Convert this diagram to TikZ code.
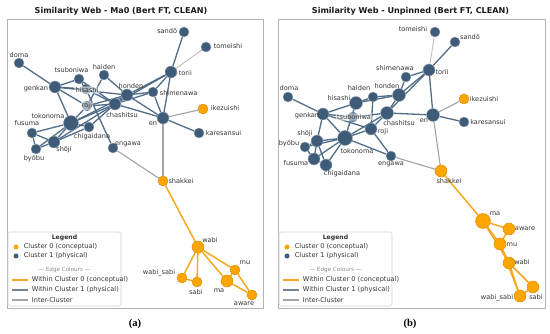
\documentclass[tikz,border=0pt]{standalone}
\usepackage{fontspec}
\setmainfont{DejaVu Sans}
\newfontfamily\capfont{Liberation Serif}
\usetikzlibrary{backgrounds}
\definecolor{bluen}{HTML}{3E5B78}
\definecolor{bluee}{HTML}{4A6683}
\definecolor{orn}{HTML}{FFA500}
\definecolor{ore}{HTML}{F7A81E}
\definecolor{grayl}{HTML}{A5A5A5}
\definecolor{txt}{HTML}{333333}
\newcommand\mylegend[1]{%
\begin{scope}[shift={(#1,0)}]
\draw[draw=black!18,fill=white,line width=0.3pt,rounded corners=1pt] (8,232) rectangle (121,306);
\node[lbl,font=\fontsize{3.5}{4}\selectfont\bfseries] (lg#1) at (64.5,238) {Legend};
\node[circle,fill=orn,inner sep=0pt,minimum size=0.1cm] (lgo#1) at (16,247) {};
\node[lbl,anchor=west,font=\fontsize{3.75}{4}\selectfont] (lgot#1) at (23,247) {Cluster 0 (conceptual)};
\node[circle,fill=bluen,inner sep=0pt,minimum size=0.1cm] (lgb#1) at (16,256) {};
\node[lbl,anchor=west,font=\fontsize{3.75}{4}\selectfont] (lgbt#1) at (23,256) {Cluster 1 (physical)};
\node[lbl,text=black!45,font=\fontsize{3.2}{4}\selectfont] (lge#1) at (64.5,270) {--- Edge Colours ---};
\coordinate (lla#1) at (12,280); \coordinate (llb#1) at (28,280);
\draw[draw=ore,line width=0.8pt] (lla#1) -- (llb#1);
\node[lbl,anchor=west,font=\fontsize{3.75}{4}\selectfont] (lgl0#1) at (31,280) {Within Cluster 0 (conceptual)};
\coordinate (lma#1) at (12,290); \coordinate (lmb#1) at (28,290);
\draw[draw=bluee!80!white,line width=0.8pt] (lma#1) -- (lmb#1);
\node[lbl,anchor=west,font=\fontsize{3.75}{4}\selectfont] (lgl1#1) at (31,290) {Within Cluster 1 (physical)};
\coordinate (lna#1) at (12,300); \coordinate (lnb#1) at (28,300);
\draw[draw=grayl,line width=0.6pt] (lna#1) -- (lnb#1);
\node[lbl,anchor=west,font=\fontsize{3.75}{4}\selectfont] (lgl2#1) at (31,300) {Inter-Cluster};
\end{scope}}
\begin{document}
\begin{tikzpicture}[x=0.02cm,y=-0.02cm,
 bn/.style={circle,fill=bluen,draw=bluen!55!white,line width=0.25pt,inner sep=0pt},
 on/.style={circle,fill=orn,draw=orn!85!black,line width=0.25pt,inner sep=0pt},
 ns/.style={minimum size=0.2cm}, nm/.style={minimum size=0.24cm},
 nb/.style={minimum size=0.26cm}, nl/.style={minimum size=0.3cm},
 lbl/.style={font=\fontsize{3.75}{4}\selectfont,text=txt,inner sep=0.3pt},
 boxlbl/.style={lbl,fill=white,fill opacity=0.55,text opacity=1,rounded corners=0.5pt,inner sep=0.6pt},
 e1/.style={draw=bluee,line width=0.75pt,opacity=0.95},
 e0/.style={draw=ore,line width=0.85pt},
 ex/.style={draw=grayl,line width=0.65pt},
 el/.style={draw=black!25,line width=0.5pt},
 frame/.style={draw=black!30,line width=0.5pt},
 ttl/.style={font=\fontsize{4.6}{5}\selectfont\bfseries,text=black!90,inner sep=0pt},
 captxt/.style={font=\fontsize{6}{7}\selectfont\capfont\bfseries,inner sep=0pt}]
\useasboundingbox (0,0) rectangle (550,334);
% titles, frames, captions
\node[ttl] (ta) at (121,11) {Similarity Web - Ma0 (Bert FT, CLEAN)};
\node[ttl] (tb) at (410.5,11) {Similarity Web - Unpinned (Bert FT, CLEAN)};
\draw[frame] (7,19) rectangle (263,308);
\draw[frame] (278,19) rectangle (545,308);
\node[captxt] (capa) at (135,324) {(a)};
\node[captxt] (capb) at (410,324) {(b)};
% ---------- panel a nodes ----------
\node[bn,ns] (asando) at (184,32) {};
\node[bn,ns] (atomeishi) at (206,47) {};
\node[bn,ns] (adoma) at (19,63) {};
\node[bn,nm] (atorii) at (171,72) {};
\node[bn,ns] (ahaiden) at (104,75) {};
\node[bn,ns] (atsuboniwa) at (79,79) {};
\node[bn,nm] (agenkan) at (55,87) {};
\node[bn,ns] (ahisashi) at (86,89) {};
\node[bn,nm] (ahonden) at (127,95) {};
\node[bn,ns] (ashimenawa) at (153,92) {};
\node[on,ns] (aikezuishi) at (203,109) {};
\node[bn,ns] (aroji) at (87,106) {};
\node[bn,nm] (achashitsu) at (115,104) {};
\node[bn,nm] (aen) at (163,118) {};
\node[bn,nl] (atokonoma) at (71,123) {};
\node[bn,ns] (akaresansui) at (199,133) {};
\node[bn,ns] (afusuma) at (32,133) {};
\node[bn,ns] (achigaidana) at (89,127) {};
\node[bn,nm] (ashoji) at (54,142) {};
\node[bn,ns] (aengawa) at (113,148) {};
\node[bn,ns] (abyobu) at (36,149) {};
\node[on,ns] (ashakkei) at (163,181) {};
\node[on,nm] (awabi) at (198,247) {};
\node[on,ns] (amu) at (235,270) {};
\node[on,ns] (awabisabi) at (182,278) {};
\node[on,ns] (asabi) at (197,282) {};
\node[on,nm] (ama) at (227,281) {};
\node[on,ns] (aaware) at (252,295) {};
% ---------- panel b nodes ----------
\node[bn,ns] (btomeishi) at (435,32) {};
\node[bn,ns] (bsando) at (455,42) {};
\node[bn,ns] (bshimenawa) at (406,77) {};
\node[bn,nm] (btorii) at (429,70) {};
\node[bn,ns] (bdoma) at (288,97) {};
\node[bn,ns] (bhaiden) at (373,97) {};
\node[bn,nb] (bhonden) at (399,95) {};
\node[on,ns] (bikezuishi) at (464,99) {};
\node[bn,nb] (bhisashi) at (356,103) {};
\node[bn,nm] (bgenkan) at (323,114) {};
\node[bn,ns] (btsuboniwa) at (353,117) {};
\node[bn,nb] (bchashitsu) at (387,113) {};
\node[bn,nb] (ben) at (433,115) {};
\node[bn,ns] (bkaresansui) at (464,122) {};
\node[bn,nm] (broji) at (371,129) {};
\node[bn,nm] (bshoji) at (317,141) {};
\node[bn,nl] (btokonoma) at (345,138) {};
\node[bn,ns] (bbyobu) at (305,147) {};
\node[bn,nm] (bfusuma) at (314,159) {};
\node[bn,ns] (bengawa) at (391,156) {};
\node[bn,nm] (bchigaidana) at (326,165) {};
\node[on,nm] (bshakkei) at (441,171) {};
\node[on,nl] (bma) at (483,221) {};
\node[on,nm] (baware) at (509,229) {};
\node[on,nm] (bmu) at (500,244) {};
\node[on,nm] (bwabi) at (509,263) {};
\node[on,nm] (bsabi) at (533,287) {};
\node[on,nm] (bwabisabi) at (520,296) {};
% ---------- edges ----------
\begin{pgfonlayer}{background}
\foreach \u/\v in {doma/genkan,sando/torii,torii/honden,torii/chashitsu,torii/shimenawa,torii/en,
 shimenawa/honden,shimenawa/en,shimenawa/chashitsu,honden/en,chashitsu/en,en/karesansui,
 haiden/honden,haiden/roji,genkan/tsuboniwa,genkan/hisashi,genkan/honden,genkan/tokonoma,genkan/roji,
 tsuboniwa/hisashi,tsuboniwa/chashitsu,hisashi/engawa,hisashi/chashitsu,roji/chashitsu,roji/tokonoma,
 roji/honden,tokonoma/chashitsu,tokonoma/honden,tokonoma/chigaidana,tokonoma/fusuma,tokonoma/shoji,
 tokonoma/byobu,chigaidana/chashitsu,chigaidana/shoji,fusuma/byobu,fusuma/shoji,byobu/shoji,
 honden/chashitsu,shoji/chashitsu}
 \draw[e1] (a\u) -- (a\v);
\draw[el] (atomeishi) -- (atorii);
\foreach \u/\v in {en/ikezuishi,en/shakkei,engawa/shakkei}
 \draw[ex] (a\u) -- (a\v);
\foreach \u/\v in {shakkei/wabi,wabi/wabisabi,wabi/sabi,wabi/ma,wabi/mu,wabisabi/sabi,ma/mu,ma/aware,mu/aware}
 \draw[e0] (a\u) -- (a\v);
\foreach \u/\v in {sando/torii,torii/shimenawa,torii/honden,torii/chashitsu,torii/en,shimenawa/honden,
 honden/chashitsu,honden/haiden,honden/hisashi,haiden/hisashi,haiden/roji,doma/genkan,genkan/hisashi,
 genkan/tsuboniwa,genkan/tokonoma,genkan/shoji,genkan/roji,chashitsu/en,chashitsu/tokonoma,
 chashitsu/roji,chashitsu/tsuboniwa,en/karesansui,engawa/tokonoma,engawa/roji,tokonoma/shoji,
 tokonoma/byobu,tokonoma/fusuma,tokonoma/chigaidana,tokonoma/roji,tokonoma/hisashi,shoji/byobu,
 shoji/fusuma,shoji/chigaidana,byobu/fusuma,fusuma/chigaidana}
 \draw[e1] (b\u) -- (b\v);
\draw[el] (btomeishi) -- (btorii);
\foreach \u/\v in {en/ikezuishi,en/shakkei,engawa/shakkei}
 \draw[ex] (b\u) -- (b\v);
\foreach \u/\v in {shakkei/ma,ma/aware,ma/mu,ma/wabi,aware/mu,mu/wabi,wabi/sabi,wabi/wabisabi,
 mu/wabisabi,sabi/wabisabi}
 \draw[e0] (b\u) -- (b\v);
\end{pgfonlayer}
% ---------- panel a labels ----------
\node[lbl,anchor=east] (lasando) at (178,31) {sandō};
\node[lbl,anchor=west] (latomeishi) at (213,46) {tomeishi};
\node[lbl] (ladoma) at (19,55) {doma};
\node[lbl,anchor=west] (latorii) at (178,73) {torii};
\node[lbl] (lahaiden) at (104,67) {haiden};
\node[lbl] (latsuboniwa) at (71.5,70) {tsuboniwa};
\node[lbl,anchor=east] (lagenkan) at (49,89) {genkan};
\node[boxlbl] (lahisashi) at (87,90) {hisashi};
\node[lbl] (lahonden) at (131,86) {honden};
\node[lbl,anchor=west] (lashimenawa) at (159,93) {shimenawa};
\node[lbl,anchor=west] (laikezuishi) at (210,108) {ikezuishi};
\node[boxlbl] (laroji) at (87,106) {roji};
\node[lbl] (lachashitsu) at (122,115) {chashitsu};
\node[lbl] (laen) at (153,124) {en};
\node[lbl] (latokonoma) at (48,116) {tokonoma};
\node[lbl,anchor=west] (lakaresansui) at (205,133) {karesansui};
\node[lbl] (lafusuma) at (27,123) {fusuma};
\node[lbl] (lachigaidana) at (92,137) {chigaidana};
\node[lbl] (lashoji) at (64,150) {shōji};
\node[lbl] (laengawa) at (128,144) {engawa};
\node[lbl] (labyobu) at (34,159) {byōbu};
\node[lbl] (lashakkei) at (181,181) {shakkei};
\node[lbl] (lawabi) at (210,240) {wabi};
\node[lbl] (lamu) at (245,263) {mu};
\node[lbl] (lawabisabi) at (159,273) {wabi\_sabi};
\node[lbl] (lasabi) at (196,292) {sabi};
\node[lbl] (lama) at (219,291) {ma};
\node[lbl] (laaware) at (244,304) {aware};
% ---------- panel b labels ----------
\node[lbl] (lbtomeishi) at (413,29) {tomeishi};
\node[lbl] (lbsando) at (470,37) {sandō};
\node[lbl] (lbshimenawa) at (395,68) {shimenawa};
\node[lbl] (lbtorii) at (442,72) {torii};
\node[lbl] (lbdoma) at (289,88) {doma};
\node[lbl] (lbhaiden) at (359,88) {haiden};
\node[lbl] (lbhonden) at (387,86) {honden};
\node[lbl] (lbikezuishi) at (484,99) {ikezuishi};
\node[lbl] (lbhisashi) at (339,98) {hisashi};
\node[lbl] (lbgenkan) at (307,116) {genkan};
\node[boxlbl] (lbtsuboniwa) at (354,117) {tsuboniwa};
\node[lbl] (lbchashitsu) at (399,123) {chashitsu};
\node[lbl] (lben) at (424,121) {en};
\node[lbl] (lbkaresansui) at (488,122) {karesansui};
\node[lbl] (lbroji) at (383,132) {roji};
\node[lbl] (lbshoji) at (305,134) {shōji};
\node[lbl] (lbtokonoma) at (357,151) {tokonoma};
\node[lbl] (lbbyobu) at (289,144) {byōbu};
\node[lbl] (lbfusuma) at (296,163) {fusuma};
\node[lbl] (lbengawa) at (391,164) {engawa};
\node[lbl] (lbchigaidana) at (342,174) {chigaidana};
\node[lbl] (lbshakkei) at (449,181) {shakkei};
\node[lbl] (lbma) at (495,214) {ma};
\node[lbl] (lbaware) at (525,229) {aware};
\node[lbl] (lbmu) at (512,245) {mu};
\node[lbl] (lbwabi) at (522,262) {wabi};
\node[lbl] (lbsabi) at (536,297) {sabi};
\node[lbl] (lbwabisabi) at (497,298) {wabi\_sabi};
% ---------- legends ----------
\mylegend{0}
\mylegend{271}
\end{tikzpicture}
\end{document}
